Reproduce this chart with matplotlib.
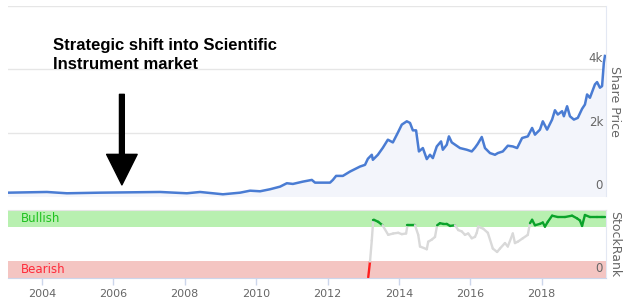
import numpy as np
import matplotlib.pyplot as plt
from matplotlib.collections import LineCollection


# share price (pence) by decimal year
price_years = [
    2003.05, 2004.14, 2004.70, 2005.62, 2007.31, 2008.06, 2008.43, 2008.79,
    2009.07, 2009.55, 2009.83, 2010.11, 2010.39, 2010.67, 2010.86, 2011.03,
    2011.31, 2011.56, 2011.65, 2012.07, 2012.15, 2012.24, 2012.43, 2012.63,
    2012.91, 2013.05, 2013.13, 2013.24, 2013.27, 2013.41, 2013.55, 2013.69,
    2013.83, 2013.97, 2014.08, 2014.22, 2014.31, 2014.39, 2014.48, 2014.56,
    2014.67, 2014.78, 2014.87, 2014.95, 2015.06, 2015.18, 2015.23, 2015.34,
    2015.40, 2015.48, 2015.71, 2015.90, 2016.04, 2016.13, 2016.21, 2016.32,
    2016.41, 2016.55, 2016.69, 2016.77, 2016.91, 2017.05, 2017.19, 2017.31,
    2017.45, 2017.61, 2017.73, 2017.81, 2017.95, 2018.03, 2018.15, 2018.29,
    2018.37, 2018.45, 2018.57, 2018.62, 2018.71, 2018.79, 2018.90, 2019.01,
    2019.13, 2019.21, 2019.27, 2019.35, 2019.49, 2019.55, 2019.63, 2019.69,
    2019.74, 2019.77,
]
price_values = [
    105, 127, 86, 105, 127, 86, 127, 86,
    54, 105, 168, 149, 213, 295, 403, 381,
    454, 508, 422, 422, 508, 635, 635, 772,
    930, 984, 1175, 1302, 1143, 1302, 1524, 1778,
    1692, 2000, 2254, 2359, 2308, 2073, 2073, 1407,
    1514, 1165, 1302, 1197, 1565, 1724, 1461, 1619,
    1883, 1692, 1514, 1461, 1407, 1524, 1651, 1864,
    1514, 1356, 1302, 1356, 1407, 1588, 1565, 1514,
    1832, 1883, 2149, 1937, 2096, 2359, 2096, 2413,
    2708, 2572, 2677, 2518, 2835, 2518, 2413, 2467,
    2753, 2889, 3207, 3102, 3524, 3597, 3420, 3470,
    4213, 4423,
]

# StockRank (0-100)
rank_years = [
    2013.14, 2013.19, 2013.24, 2013.28, 2013.30, 2013.42, 2013.54, 2013.70,
    2013.84, 2013.98, 2014.08, 2014.20, 2014.24, 2014.26, 2014.45, 2014.54,
    2014.59, 2014.78, 2014.82, 2014.92, 2015.01, 2015.07, 2015.15, 2015.24,
    2015.34, 2015.43, 2015.57, 2015.66, 2015.76, 2015.85, 2015.94, 2016.04,
    2016.13, 2016.18, 2016.22, 2016.36, 2016.49, 2016.63, 2016.75, 2016.83,
    2016.97, 2017.05, 2017.19, 2017.25, 2017.33, 2017.47, 2017.61, 2017.67,
    2017.73, 2017.81, 2017.95, 2018.03, 2018.09, 2018.17, 2018.29, 2018.45,
    2018.65, 2018.85, 2018.99, 2019.07, 2019.13, 2019.21, 2019.35, 2019.55,
    2019.69, 2019.77,
]
rank_values = [
    1, 24, 55, 85, 85, 82, 77, 63,
    65, 66, 64, 65, 77, 77, 77, 63,
    46, 42, 53, 56, 60, 77, 80, 79,
    79, 76, 77, 70, 68, 63, 65, 58,
    60, 66, 75, 72, 66, 43, 38, 43,
    51, 46, 65, 51, 53, 58, 63, 80,
    85, 77, 79, 81, 75, 82, 91, 89,
    89, 91, 87, 84, 76, 92, 89, 89,
    89, 89,
]

tick_years = [2004, 2006, 2008, 2010, 2012, 2014, 2016, 2018]

LINE_BLUE = "#4a7cd3"
GRID = "#e6e6e6"
AXIS = "#ccd6eb"
LABEL = "#666666"

fig = plt.figure(figsize=(6.24, 3.0), dpi=100)
ax = fig.add_axes([8 / 624, 1 - 196 / 300, 598 / 624, 190 / 300])
ax2 = fig.add_axes([8 / 624, 1 - 278 / 300, 598 / 624, 68.5 / 300])

xlim = (2003.05, 2019.8)

# ---- share price panel ----
ax.fill_between(price_years, price_values, color="#f3f5fb", zorder=1)
ax.plot(price_years, price_values, color=LINE_BLUE, lw=1.8, zorder=3)
ax.set_xlim(*xlim)
ax.set_ylim(0, 6000)
for v in (2000, 4000, 6000):
    ax.axhline(v, color=GRID, lw=1, zorder=0)
for s in ("left", "bottom", "top"):
    ax.spines[s].set_visible(False)
ax.spines["right"].set_color("#e3e8f3")
ax.set_xticks([])
ax.set_yticks([])
for v, lab in ((0, "0"), (2000, "2k"), (4000, "4k")):
    ax.text(0.995, v + 130, lab, transform=ax.get_yaxis_transform(),
            ha="right", va="bottom", fontsize=8.5, color=LABEL)
ax.text(1.004, 0.5, "Share Price", transform=ax.transAxes, rotation=270,
        ha="left", va="center", fontsize=9, color=LABEL)

ax.text(2004.3, 4450, "Strategic shift into Scientific\nInstrument market",
        fontsize=12, fontweight="bold", family="Liberation Sans",
        ha="left", va="center", linespacing=1.35, color="black")
ax.annotate("", xy=(2006.24, 350), xytext=(2006.24, 3210),
            arrowprops=dict(arrowstyle="simple,head_length=2.2,head_width=2.2,tail_width=0.35",
                            color="black", mutation_scale=10,
                            shrinkA=0, shrinkB=0))

# ---- StockRank panel ----
ax2.axhspan(74, 100, color="#b8f0b0", lw=0, zorder=0)
ax2.axhspan(0, 25, color="#f4c5c2", lw=0, zorder=0)
ax2.text(2003.4, 87, "Bullish", color="#1fc11f", fontsize=8.5,
         ha="left", va="center")
ax2.text(2003.4, 12, "Bearish", color="#ff2a3a", fontsize=8.5,
         ha="left", va="center")

pts = np.column_stack([rank_years, rank_values])
segs = np.stack([pts[:-1], pts[1:]], axis=1)
colors = []
for a, b in zip(rank_values[:-1], rank_values[1:]):
    m = (a + b) / 2
    if m >= 74:
        colors.append("#0aa32a")
    elif m < 25:
        colors.append("#ff1f1f")
    else:
        colors.append("#d9d9d9")
ax2.add_collection(LineCollection(segs, colors=colors, linewidths=1.7,
                                  capstyle="round", zorder=3))

ax2.set_xlim(*xlim)
ax2.set_ylim(0, 100)
ax2.set_yticks([])
ax2.spines["left"].set_visible(False)
ax2.spines["top"].set_color(GRID)
ax2.spines["right"].set_color("#e3e8f3")
ax2.spines["bottom"].set_color(AXIS)
ax2.set_xticks(tick_years)
ax2.set_xticklabels([str(y) for y in tick_years])
ax2.tick_params(axis="x", colors=AXIS, length=5, width=1, labelsize=8,
                labelcolor=LABEL, pad=3)
ax2.text(0.995, 4, "0", transform=ax2.get_yaxis_transform(),
         ha="right", va="bottom", fontsize=8.5, color=LABEL)
ax2.text(1.004, 0.5, "StockRank", transform=ax2.transAxes, rotation=270,
         ha="left", va="center", fontsize=9, color=LABEL)

fig.savefig("out.png", dpi=100)
